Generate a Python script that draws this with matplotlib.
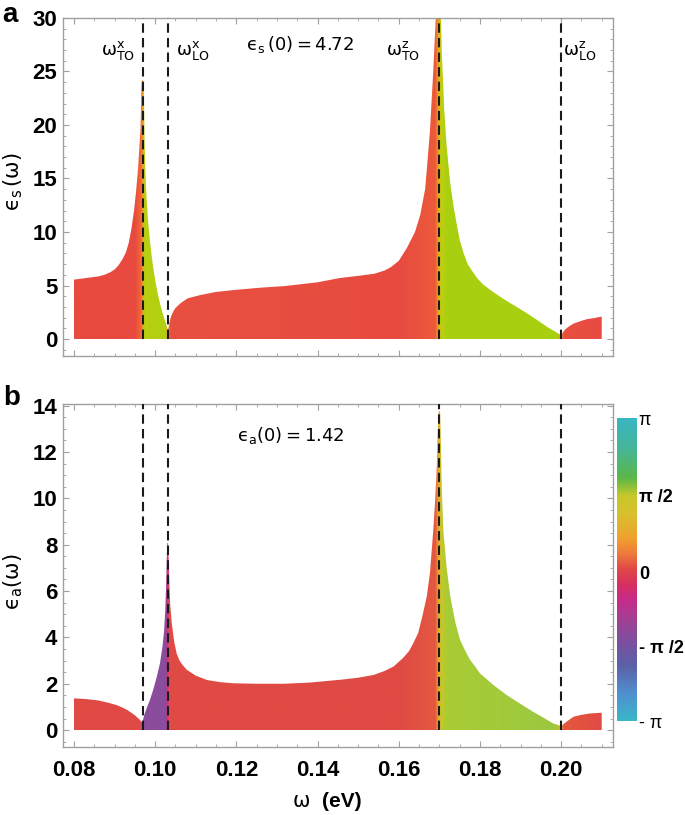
import numpy as np
import matplotlib
matplotlib.use("Agg")
import matplotlib.pyplot as plt
from matplotlib.colors import LinearSegmentedColormap
from matplotlib.ticker import MultipleLocator

plt.rcParams['mathtext.fontset'] = 'dejavusans'

# panel a: eps_s(w), magnitude
w_a = [0.0800, 0.0820, 0.0840, 0.0860, 0.0875, 0.0890, 0.0900, 0.0910, 0.0920, 0.0928,
       0.0935, 0.0941, 0.0948, 0.0953, 0.0958, 0.0962, 0.0964, 0.0965, 0.0966, 0.0967,
       0.0969, 0.0971, 0.0972, 0.0973, 0.0974, 0.0976, 0.0979, 0.0983, 0.0987, 0.0991,
       0.0995, 0.1000, 0.1006, 0.1012, 0.1020, 0.1028, 0.1031, 0.1033, 0.1036, 0.1040,
       0.1045, 0.1050, 0.1061, 0.1070, 0.1080, 0.1095, 0.1110, 0.1150, 0.1200, 0.1260,
       0.1320, 0.1400, 0.1455, 0.1500, 0.1540, 0.1565, 0.1580, 0.1600, 0.1620, 0.1640,
       0.1653, 0.1665, 0.1670, 0.1677, 0.1685, 0.1690, 0.1694, 0.1700, 0.1703, 0.1706,
       0.1712, 0.1718, 0.1727, 0.1735, 0.1743, 0.1750, 0.1760, 0.1770, 0.1780, 0.1795,
       0.1808, 0.1825, 0.1840, 0.1858, 0.1875, 0.1895, 0.1916, 0.1940, 0.1965, 0.1985,
       0.2000, 0.2004, 0.2010, 0.2020, 0.2031, 0.2050, 0.2063, 0.2080, 0.2100]
eps_s = [5.55, 5.65, 5.75, 5.85, 6.0, 6.25, 6.5, 6.9, 7.5, 8.1,
         9.0, 10.2, 12.0, 13.8, 16.0, 18.5, 19.8, 21.5, 23.5, 24.1,
         24.2, 24.1, 23.5, 21.0, 18.5, 15.5, 13.0, 10.8, 9.2, 7.9,
         6.75, 5.5, 4.3, 3.3, 2.2, 1.3, 0.9, 1.1, 1.7, 2.2,
         2.6, 2.9, 3.3, 3.55, 3.8, 3.95, 4.1, 4.4, 4.6, 4.8,
         4.95, 5.3, 5.7, 5.9, 6.1, 6.4, 6.7, 7.3, 8.5, 10.0,
         11.6, 14.0, 16.2, 19.5, 25.0, 29.0, 32.0, 34.0, 32.0, 27.0,
         21.5, 18.0, 14.5, 12.4, 10.7, 9.3, 8.0, 7.0, 6.4, 5.6,
         5.1, 4.6, 4.2, 3.75, 3.35, 2.9, 2.4, 1.8, 1.15, 0.7,
         0.35, 0.6, 0.9, 1.2, 1.45, 1.7, 1.85, 1.95, 2.1]

# panel b: eps_a(w)
w_b = [0.0800, 0.0830, 0.0860, 0.0885, 0.0905, 0.0920, 0.0932, 0.0942, 0.0950, 0.0957,
       0.0963, 0.0968, 0.0970, 0.0974, 0.0979, 0.0987, 0.0995, 0.1004, 0.1012, 0.1018,
       0.1022, 0.1025, 0.1027, 0.1029, 0.1030, 0.1031, 0.1032, 0.1033, 0.1035, 0.1037,
       0.1041, 0.1047, 0.1053, 0.1060, 0.1068, 0.1078, 0.1100, 0.1128, 0.1160, 0.1193,
       0.1250, 0.1316, 0.1380, 0.1455, 0.1500, 0.1538, 0.1565, 0.1587, 0.1610, 0.1625,
       0.1636, 0.1648, 0.1658, 0.1669, 0.1677, 0.1685, 0.1690, 0.1694, 0.1696, 0.1698,
       0.1700, 0.1702, 0.1704, 0.1706, 0.1710, 0.1718, 0.1727, 0.1740, 0.1751, 0.1763,
       0.1775, 0.1788, 0.1800, 0.1833, 0.1866, 0.1900, 0.1931, 0.1960, 0.1980, 0.2000,
       0.2008, 0.2020, 0.2031, 0.2050, 0.2072, 0.2100]
eps_a = [1.37, 1.34, 1.28, 1.18, 1.08, 0.97, 0.86, 0.74, 0.64, 0.53,
         0.43, 0.33, 0.45, 0.70, 0.94, 1.30, 1.73, 2.30, 2.9, 3.6,
         4.3, 5.2, 6.3, 7.7, 8.05, 8.1, 8.05, 7.6, 6.4, 5.4,
         4.6, 3.8, 3.3, 3.0, 2.8, 2.6, 2.35, 2.16, 2.07, 2.02,
         2.0, 2.0, 2.05, 2.17, 2.26, 2.38, 2.55, 2.74, 3.1, 3.4,
         3.75, 4.2, 4.9, 5.76, 6.8, 8.6, 10.0, 11.5, 12.8, 13.7,
         13.8, 13.7, 12.3, 10.5, 8.6, 7.0, 5.76, 4.6, 3.9, 3.45,
         3.05, 2.75, 2.45, 1.95, 1.51, 1.13, 0.79, 0.5, 0.29, 0.18,
         0.29, 0.45, 0.58, 0.66, 0.72, 0.75]

# phonon frequencies (dashed lines)
w_modes = [0.0969, 0.1031, 0.1700, 0.2000]

# fill colours along w (phase of eps)
col_a_w = [0.0800, 0.0950, 0.0965, 0.0969, 0.0973, 0.1025, 0.1031, 0.1037, 0.1600,
           0.1690, 0.1697, 0.1703, 0.1720, 0.1990, 0.2000, 0.2006, 0.2100]
col_a = ['#e84a40', '#e84a40', '#f06a34', '#f0a020', '#b8d010', '#b0d010', '#f0a030', '#e85040',
         '#e84a40', '#ec5a3a', '#f0a020', '#c0d010', '#a8d010', '#a8d010', '#f0a030', '#e85040', '#e84a40']
col_b_w = [0.0800, 0.0955, 0.0966, 0.0971, 0.1026, 0.1030, 0.1034, 0.1041, 0.1600,
           0.1690, 0.1697, 0.1703, 0.1720, 0.1980, 0.1995, 0.2000, 0.2006, 0.2100]
col_b = ['#e04a44', '#e04a44', '#d84a5c', '#8c4c9c', '#8a4c9c', '#d02e80', '#e04a50', '#e04a44',
         '#df4a44', '#e45840', '#f0a030', '#c8c828', '#a8cc34', '#9cc840', '#c0c030', '#f0a030', '#e4583e', '#e04a44']

# phase colour bar
bar_pos = [0.0, 0.09, 0.18, 0.255, 0.32, 0.40, 0.45, 0.50, 0.55, 0.60, 0.68, 0.74, 0.80, 0.90, 1.0]
bar_col = ['#3ab8c8', '#5090d0', '#5a62a8', '#7a50a0', '#9a4496', '#c82a8a', '#d83060', '#e04848',
           '#ee7a3c', '#f0a030', '#d8c02c', '#c8c82a', '#5cb848', '#45b59a', '#3ab5c5']
bar_labels = ['- π', '- π /2', '0', 'π /2', 'π']
bar_ticks = [0.0, 0.245, 0.49, 0.745, 1.0]


def gradient_fill(ax, w, v, cw, cc, top):
    w0, w1 = cw[0], cw[-1]
    cm = LinearSegmentedColormap.from_list('g', list(zip((np.array(cw) - w0) / (w1 - w0), cc)), N=2048)
    poly = ax.fill_between(w, 0, v, facecolor='none', linewidth=0)
    im = ax.imshow(np.linspace(0, 1, 2048)[None, :], cmap=cm, aspect='auto',
                   extent=[w0, w1, 0, top], origin='lower', interpolation='bilinear', zorder=1)
    im.set_clip_path(poly.get_paths()[0], transform=ax.transData)


def style_axes(ax, ymax, ymin, ymaj, ymin_step):
    ax.set_xlim(0.0773, 0.2128)
    ax.set_ylim(ymin, ymax)
    ax.xaxis.set_major_locator(MultipleLocator(0.02))
    ax.xaxis.set_minor_locator(MultipleLocator(0.005))
    ax.yaxis.set_major_locator(MultipleLocator(ymaj))
    ax.yaxis.set_minor_locator(MultipleLocator(ymin_step))
    for s in ax.spines.values():
        s.set_color('#a0a0a0')
        s.set_linewidth(1.0)
    ax.tick_params(which='both', direction='in', top=True, right=True, color='#a0a0a0')
    ax.tick_params(which='major', length=4, width=0.8)
    ax.tick_params(which='minor', length=2, width=0.6)
    ax.tick_params(axis='y', pad=4)
    ax.tick_params(axis='x', pad=9)


fig = plt.figure(figsize=(6.85, 8.15), dpi=100)
ax1 = fig.add_axes([0.092, 0.563, 0.803, 0.415])
ax2 = fig.add_axes([0.092, 0.0834, 0.803, 0.4209])

gradient_fill(ax1, w_a, eps_s, col_a_w, col_a, 36)
gradient_fill(ax2, w_b, eps_a, col_b_w, col_b, 15)

for w in w_modes:
    ax1.plot([w, w], [0, 30], color='#1a1a1a', ls=(0, (4.5, 2.5)), lw=1.5, zorder=3)
    ax2.plot([w, w], [0, 14.07], color='#1a1a1a', ls=(0, (4.5, 2.5)), lw=1.5, zorder=3)

style_axes(ax1, 30, -1.6, 5, 1)
style_axes(ax2, 14.07, -0.73, 2, 0.5)
tick_font = dict(fontfamily='Liberation Sans', fontweight='bold', fontsize=16)
ax1.set_xticks([0.08, 0.10, 0.12, 0.14, 0.16, 0.18, 0.20])
ax1.set_xticklabels([])
ax2.set_xticks([0.08, 0.10, 0.12, 0.14, 0.16, 0.18, 0.20])
ax2.set_xticklabels(['0.08', '0.10', '0.12', '0.14', '0.16', '0.18', '0.20'], **tick_font)
ax1.set_yticks([0, 5, 10, 15, 20, 25, 30])
ax1.set_yticklabels(['0', '5', '10', '15', '20', '25', '30'], **tick_font)
ax2.set_yticks([0, 2, 4, 6, 8, 10, 12, 14])
ax2.set_yticklabels(['0', '2', '4', '6', '8', '10', '12', '14'], **tick_font)

# annotations
ax1.text(0.1357, 27.5, r'$\mathrm{ϵ}_\mathrm{s}\,(0) = 4.72$', fontsize=13, ha='center', va='center')
ax1.text(0.0908, 27.0, r'$\mathrm{ω}_\mathrm{TO}^\mathrm{x}$', fontsize=13, ha='center', va='center')
ax1.text(0.1093, 27.0, r'$\mathrm{ω}_\mathrm{LO}^\mathrm{x}$', fontsize=13, ha='center', va='center')
ax1.text(0.1610, 27.0, r'$\mathrm{ω}_\mathrm{TO}^\mathrm{z}$', fontsize=13, ha='center', va='center')
ax1.text(0.2045, 27.0, r'$\mathrm{ω}_\mathrm{LO}^\mathrm{z}$', fontsize=13, ha='center', va='center')
ax2.text(0.1335, 12.7, r'$\mathrm{ϵ}_\mathrm{a}(0) = 1.42$', fontsize=13, ha='center', va='center')

fig.text(0.019, 0.777, r'$\mathrm{ϵ}_\mathrm{s}\,(\mathrm{ω})$', fontsize=15, rotation=90, ha='center', va='center')
fig.text(0.019, 0.286, r'$\mathrm{ϵ}_\mathrm{a}(\mathrm{ω})$', fontsize=15, rotation=90, ha='center', va='center')
fig.text(0.440, 0.017, 'ω', fontsize=15, ha='center', va='center')
fig.text(0.470, 0.017, '(eV)', fontsize=15, fontweight='bold', fontfamily='Liberation Sans',
         ha='left', va='center')
fig.text(0.004, 0.998, 'a', fontsize=20, fontweight='bold', fontfamily='Liberation Sans', ha='left', va='top')
fig.text(0.004, 0.527, 'b', fontsize=20, fontweight='bold', fontfamily='Liberation Sans', ha='left', va='top')

# colour bar
cax = fig.add_axes([0.9007, 0.1153, 0.0278, 0.3718])
bar_cmap = LinearSegmentedColormap.from_list('phase', list(zip(bar_pos, bar_col)), N=512)
cax.imshow(np.linspace(0, 1, 512)[:, None], cmap=bar_cmap, aspect='auto', origin='lower',
           extent=[0, 1, 0, 1])
cax.set_xticks([])
cax.yaxis.tick_right()
cax.set_yticks(bar_ticks)
cax.set_yticklabels(bar_labels, fontfamily='Liberation Sans', fontsize=13)
for lab, bold in zip(cax.get_yticklabels(), [False, True, True, True, False]):
    if bold:
        lab.set_fontweight('bold')
cax.tick_params(length=0, pad=2)
for s in cax.spines.values():
    s.set_visible(False)

fig.savefig('out.png', dpi=100)
